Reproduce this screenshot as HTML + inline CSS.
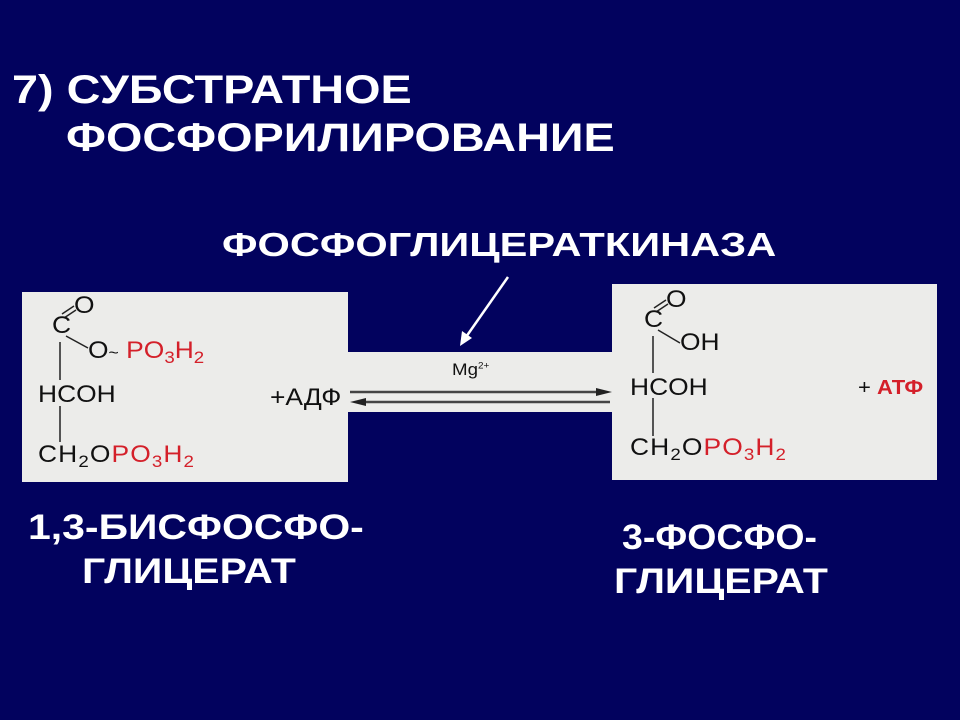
<!DOCTYPE html>
<html><head><meta charset="utf-8"><style>
body{margin:0;width:960px;height:720px;background:#02025e;position:relative;overflow:hidden;font-family:"Liberation Sans",sans-serif}
.t{position:absolute;color:#fff;font-weight:bold;white-space:nowrap;transform-origin:0 0}
.c{position:absolute;color:#111;font-size:24px;white-space:nowrap;transform-origin:0 0;transform:scaleX(1.1)}
.r{color:#d4202a}
sub{font-size:17px;vertical-align:-5px}
</style></head><body>
<div class="t" style="left:12px;top:68px;font-size:40px;transform:scaleX(1.17)">7) СУБСТРАТНОЕ</div>
<div class="t" style="left:66px;top:116px;font-size:40px;transform:scaleX(1.17)">ФОСФОРИЛИРОВАНИЕ</div>
<div class="t" style="left:222px;top:226px;font-size:33px;transform:scaleX(1.26)">ФОСФОГЛИЦЕРАТКИНАЗА</div>
<div style="position:absolute;left:22px;top:292px;width:326px;height:190px;background:#ececea"></div>
<div style="position:absolute;left:348px;top:352px;width:264px;height:60px;background:#ececea"></div>
<div style="position:absolute;left:612px;top:284px;width:325px;height:196px;background:#ececea"></div>
<svg width="960" height="720" style="position:absolute;left:0;top:0">
<line x1="508" y1="277" x2="466" y2="337" stroke="#fff" stroke-width="2.5"/>
<polygon points="460,346 462,331 472,338" fill="#fff"/>
<line x1="64" y1="318" x2="76" y2="310" stroke="#222" stroke-width="1.5"/>
<line x1="62" y1="314" x2="74" y2="306" stroke="#222" stroke-width="1.5"/>
<line x1="66" y1="336" x2="88" y2="348" stroke="#222" stroke-width="1.5"/>
<line x1="60" y1="342" x2="60" y2="380" stroke="#222" stroke-width="1.5"/>
<line x1="60" y1="406" x2="60" y2="442" stroke="#222" stroke-width="1.5"/>
<line x1="656" y1="312" x2="668" y2="304" stroke="#222" stroke-width="1.5"/>
<line x1="654" y1="308" x2="666" y2="300" stroke="#222" stroke-width="1.5"/>
<line x1="658" y1="330" x2="680" y2="343" stroke="#222" stroke-width="1.5"/>
<line x1="653" y1="336" x2="653" y2="373" stroke="#222" stroke-width="1.5"/>
<line x1="653" y1="398" x2="653" y2="436" stroke="#222" stroke-width="1.5"/>
<line x1="350" y1="392" x2="600" y2="392" stroke="#444" stroke-width="2.5"/>
<polygon points="612,392 596,388 596,396" fill="#222"/>
<line x1="360" y1="402" x2="610" y2="402" stroke="#444" stroke-width="2.5"/>
<polygon points="350,402 366,398 366,406" fill="#222"/>
</svg>
<div class="c" style="left:52px;top:312px;">C</div>
<div class="c" style="left:74px;top:292px;">O</div>
<div class="c" style="left:88px;top:337px;">O<span style="font-size:16px">~</span> <span class="r">PO<sub>3</sub>H<sub>2</sub></span></div>
<div class="c" style="left:38px;top:381px;">HCOH</div>
<div class="c" style="left:38px;top:441px;letter-spacing:1px">CH<sub>2</sub>O<span class="r">PO<sub>3</sub>H<sub>2</sub></span></div>
<div class="c" style="left:270px;top:384px;">+АДФ</div>
<div class="c" style="left:452px;top:360px;font-size:17px;">Mg<sup style="font-size:9px">2+</sup></div>
<div class="c" style="left:644px;top:306px;">C</div>
<div class="c" style="left:666px;top:286px;">O</div>
<div class="c" style="left:680px;top:329px;">OH</div>
<div class="c" style="left:630px;top:374px;">HCOH</div>
<div class="c" style="left:630px;top:434px;letter-spacing:1px">CH<sub>2</sub>O<span class="r">PO<sub>3</sub>H<sub>2</sub></span></div>
<div class="c" style="left:858px;top:377px;font-size:20px;">+ <b class="r">АТФ</b></div>
<div class="t" style="left:28px;top:508px;font-size:35px;transform:scaleX(1.17)">1,3-БИСФОСФО-</div>
<div class="t" style="left:82px;top:552px;font-size:35px;transform:scaleX(1.17)">ГЛИЦЕРАТ</div>
<div class="t" style="left:622px;top:518px;font-size:35px;transform:scaleX(1.07)">3-ФОСФО-</div>
<div class="t" style="left:614px;top:562px;font-size:35px;transform:scaleX(1.17)">ГЛИЦЕРАТ</div>
</body></html>
